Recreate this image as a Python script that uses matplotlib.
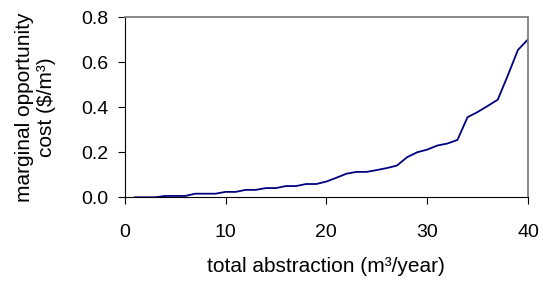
import matplotlib.pyplot as plt

plt.rcParams["font.family"] = ["Liberation Sans", "DejaVu Sans"]

# total abstraction (m3/year) and marginal opportunity cost ($/m3)
abstraction = list(range(1, 41))
cost = [0.0, 0.0, 0.0, 0.006, 0.006, 0.006, 0.016, 0.016, 0.016, 0.024,
        0.024, 0.033, 0.033, 0.041, 0.041, 0.05, 0.05, 0.059, 0.059, 0.07,
        0.087, 0.105, 0.113, 0.113, 0.121, 0.13, 0.141, 0.178, 0.2, 0.212,
        0.23, 0.239, 0.255, 0.356, 0.379, 0.406, 0.434, 0.542, 0.655, 0.702]

fig = plt.figure(figsize=(5.43, 2.84), dpi=100)
ax = fig.add_axes([0.2297, 0.3053, 0.7427, 0.6337])

ax.plot(abstraction, cost, color="#000080", linewidth=1.3)

ax.set_xlim(0, 40)
ax.set_ylim(0, 0.8)
ax.set_xticks([0, 10, 20, 30, 40])
ax.set_yticks([0.0, 0.2, 0.4, 0.6, 0.8])
ax.set_yticklabels(["0.0", "0.2", "0.4", "0.6", "0.8"])
ax.tick_params(direction="out", length=5, width=0.8, labelsize=14)
ax.tick_params(axis="x", pad=14)
ax.tick_params(axis="y", pad=7)

for side in ("top", "right"):
    ax.spines[side].set_color("#808080")
    ax.spines[side].set_linewidth(1.3)
for side in ("left", "bottom"):
    ax.spines[side].set_color("black")
    ax.spines[side].set_linewidth(0.8)

ax.set_xlabel("total abstraction (m\u00b3/year)", fontsize=15)
ax.xaxis.set_label_coords(0.5, -0.387)
ax.xaxis.label.set_va("center")

ax.set_ylabel("marginal opportunity\ncost ($/m\u00b3)", fontsize=15,
              linespacing=1.2)
ax.yaxis.set_label_coords(-0.222, 0.5)
ax.yaxis.label.set_va("center")

fig.savefig("out.png", dpi=100)
